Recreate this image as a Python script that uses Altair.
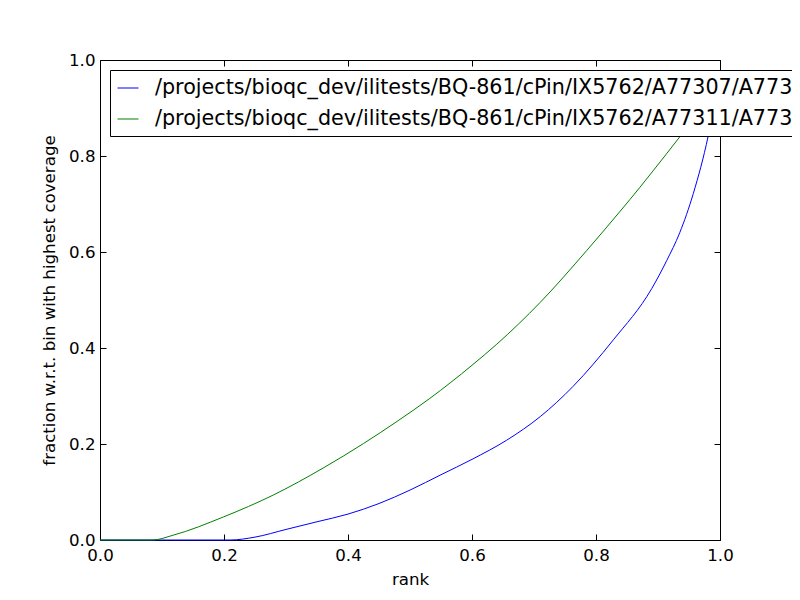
import altair as alt
import pandas as pd

labels = [
    "/projects/bioqc_dev/ilitests/BQ-861/cPin/IX5762/A77307/A77307",
    "/projects/bioqc_dev/ilitests/BQ-861/cPin/IX5762/A77311/A77311",
]
colors = ["#0000ff", "#008000"]

blue_rank = [0.0, 0.1, 0.21, 0.25, 0.30, 0.35, 0.40, 0.45, 0.50, 0.55, 0.60, 0.656,
             0.71, 0.763, 0.828, 0.890, 0.914, 0.935, 0.957, 0.981, 1.0]
blue_frac = [0.0, 0.0, 0.0, 0.006, 0.022, 0.038, 0.054, 0.076, 0.104, 0.136, 0.168, 0.208,
             0.257, 0.320, 0.417, 0.524, 0.582, 0.640, 0.722, 0.842, 0.975]

green_rank = [0.0, 0.085, 0.118, 0.199, 0.28, 0.36, 0.425, 0.479, 0.532, 0.60,
              0.64, 0.71, 0.785, 0.839, 0.871, 0.892, 0.937, 1.0]
green_frac = [0.0, 0.0, 0.010, 0.048, 0.094, 0.150, 0.201, 0.247, 0.295, 0.364,
              0.408, 0.495, 0.603, 0.685, 0.735, 0.769, 0.843, 0.950]

tick_values = [0.0, 0.2, 0.4, 0.6, 0.8, 1.0]

rows = []
for i, (r, f) in enumerate(zip(blue_rank, blue_frac)):
    rows.append({"rank": r, "frac": f, "series": labels[0], "idx": i})
for i, (r, f) in enumerate(zip(green_rank, green_frac)):
    rows.append({"rank": r, "frac": f, "series": labels[1], "idx": i})
df = pd.DataFrame(rows)

FONT = "DejaVu Sans"
FS = 16.67
TICK = 6

xscale = alt.Scale(domain=[0, 1], nice=False, zero=False)
yscale = alt.Scale(domain=[0, 1], nice=False, zero=False)

base = alt.Chart(df)

lines = base.mark_line(strokeWidth=1, interpolate="monotone").encode(
    x=alt.X("rank:Q", scale=xscale,
            axis=alt.Axis(orient="bottom", values=tick_values, format=".1f", title="rank",
                          offset=-TICK, tickSize=TICK, domain=False, grid=False,
                          labelFlush=False, labelPadding=7, titlePadding=8)),
    y=alt.Y("frac:Q", scale=yscale,
            axis=alt.Axis(orient="left", values=tick_values, format=".1f",
                          title="fraction w.r.t. bin with highest coverage",
                          offset=-TICK, tickSize=TICK, domain=False, grid=False,
                          labelFlush=False, labelPadding=5, titlePadding=10)),
    color=alt.Color("series:N",
                    scale=alt.Scale(domain=labels, range=colors),
                    legend=alt.Legend(orient="none", legendX=10, legendY=10, title=None,
                                      fillColor="white", strokeColor="black", padding=7,
                                      labelFontSize=20.7, labelFont=FONT, labelColor="black",
                                      symbolType="stroke", symbolSize=441, symbolStrokeWidth=1,
                                      labelLimit=3000, rowPadding=10, labelOffset=16,
                                      cornerRadius=0)),
    order="idx:Q",
)

mirror = base.mark_line(opacity=0).encode(
    x=alt.X("rank:Q", scale=xscale,
            axis=alt.Axis(orient="top", values=tick_values, labels=False, title=None,
                          offset=-TICK, tickSize=TICK, domain=False, grid=False)),
    y=alt.Y("frac:Q", scale=yscale,
            axis=alt.Axis(orient="right", values=tick_values, labels=False, title=None,
                          offset=-TICK, tickSize=TICK, domain=False, grid=False)),
    detail="series:N",
    order="idx:Q",
)

chart = (
    alt.layer(mirror, lines)
    .resolve_axis(x="independent", y="independent")
    .properties(
        width=620, height=480,
        autosize=alt.AutoSizeParams(type="none"),
        padding={"left": 92, "top": 52, "right": 72, "bottom": 52},
    )
    .configure(font=FONT)
    .configure_view(stroke="black", strokeWidth=1)
    .configure_axis(labelFont=FONT, labelFontSize=FS, labelColor="black",
                    titleFont=FONT, titleFontSize=FS, titleColor="black",
                    titleFontWeight="normal", tickColor="black", tickWidth=1)
)

chart.save("out.html", embed_options={"renderer": "svg", "actions": False})
